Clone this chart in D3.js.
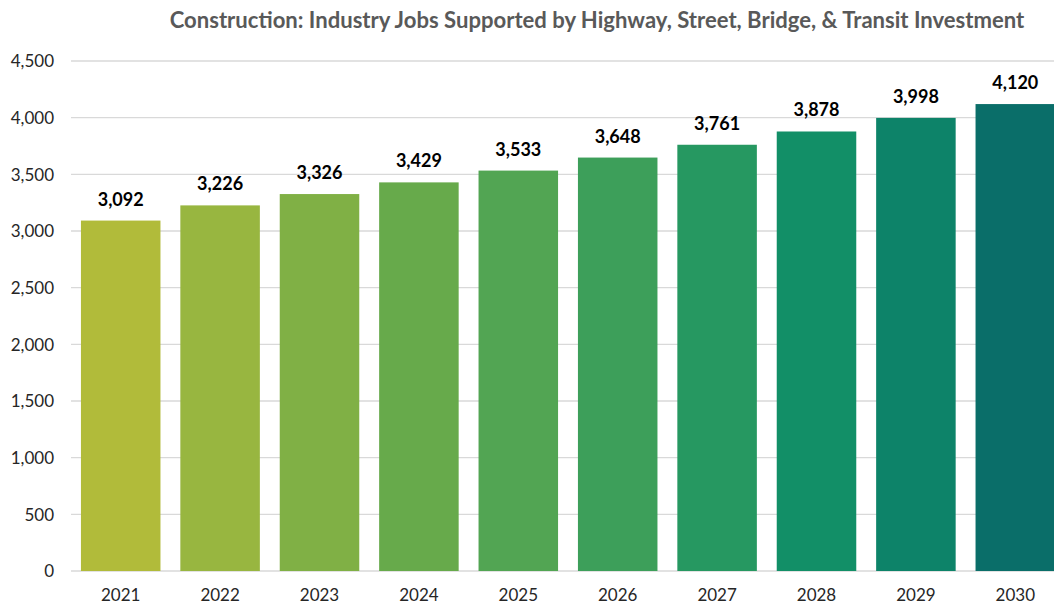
<!DOCTYPE html>
<html><head><meta charset="utf-8">
<script src="https://cdn.jsdelivr.net/npm/d3@7"></script>
<style>body{margin:0;background:#fff}svg{display:block}</style>
</head><body>
<svg id="c" width="1054" height="604"></svg>
<script>
const years = ["2021","2022","2023","2024","2025","2026","2027","2028","2029","2030"];
const jobs = [3092,3226,3326,3429,3533,3648,3761,3878,3998,4120];
const colors = ["#B1BB3A","#98B640","#80B045","#67AA4B","#52A553","#3D9F5A","#269861","#128F67","#0D8369","#0A6E69"];
const yTicks = [0,500,1000,1500,2000,2500,3000,3500,4000,4500];
const title = "Construction: Industry Jobs Supported by Highway, Street, Bridge, & Transit Investment";

const svg = d3.select("#c");
const font = "Lato, 'Open Sans', sans-serif";
const x = d3.scaleBand().domain(years).range([71,1065]).paddingInner(0.2).paddingOuter(0.1);
const y = d3.scaleLinear().domain([0,4500]).range([571,61]);

// gridlines
svg.append("g").selectAll("line").data(yTicks).join("line")
  .attr("x1",71).attr("x2",1054).attr("y1",d=>y(d)).attr("y2",d=>y(d))
  .attr("stroke","#d9d9d9").attr("stroke-width",1.3);

// y axis labels
const yAxis = d3.axisLeft(y).tickValues(yTicks).tickFormat(d3.format(",")).tickSize(0).tickPadding(0);
const yg = svg.append("g").attr("transform","translate(54,0)").call(yAxis);
yg.select(".domain").remove();
yg.selectAll("text").attr("font-family",font).attr("font-size",17).attr("fill","#262626").attr("dy","0.35em");

// x axis labels
const xAxis = d3.axisBottom(x).tickSize(0).tickPadding(0);
const xg = svg.append("g").attr("transform","translate(0,591)").call(xAxis);
xg.select(".domain").remove();
xg.selectAll("text").attr("font-family",font).attr("font-size",17).attr("fill","#262626").attr("dy","0.6em");

// bars
svg.append("g").selectAll("rect").data(years).join("rect")
  .attr("x",d=>x(d)).attr("width",x.bandwidth())
  .attr("y",(d,i)=>y(jobs[i])).attr("height",(d,i)=>y(0)-y(jobs[i]))
  .attr("fill",(d,i)=>colors[i]);

// value labels
svg.append("g").selectAll("text").data(years).join("text")
  .attr("x",d=>x(d)+x.bandwidth()/2).attr("y",(d,i)=>y(jobs[i])-15)
  .attr("text-anchor","middle").attr("font-family",font).attr("font-weight","bold")
  .attr("font-size",18).attr("fill","#000").text((d,i)=>d3.format(",")(jobs[i]));

// title
const t = svg.append("text").attr("x",597).attr("y",28).attr("text-anchor","middle")
  .attr("font-family",font).attr("font-weight","bold").attr("font-size",19).attr("fill","#595959").text(title);
const w = t.node().getComputedTextLength();
t.attr("font-size", 19*855/w);
</script>
</body></html>
